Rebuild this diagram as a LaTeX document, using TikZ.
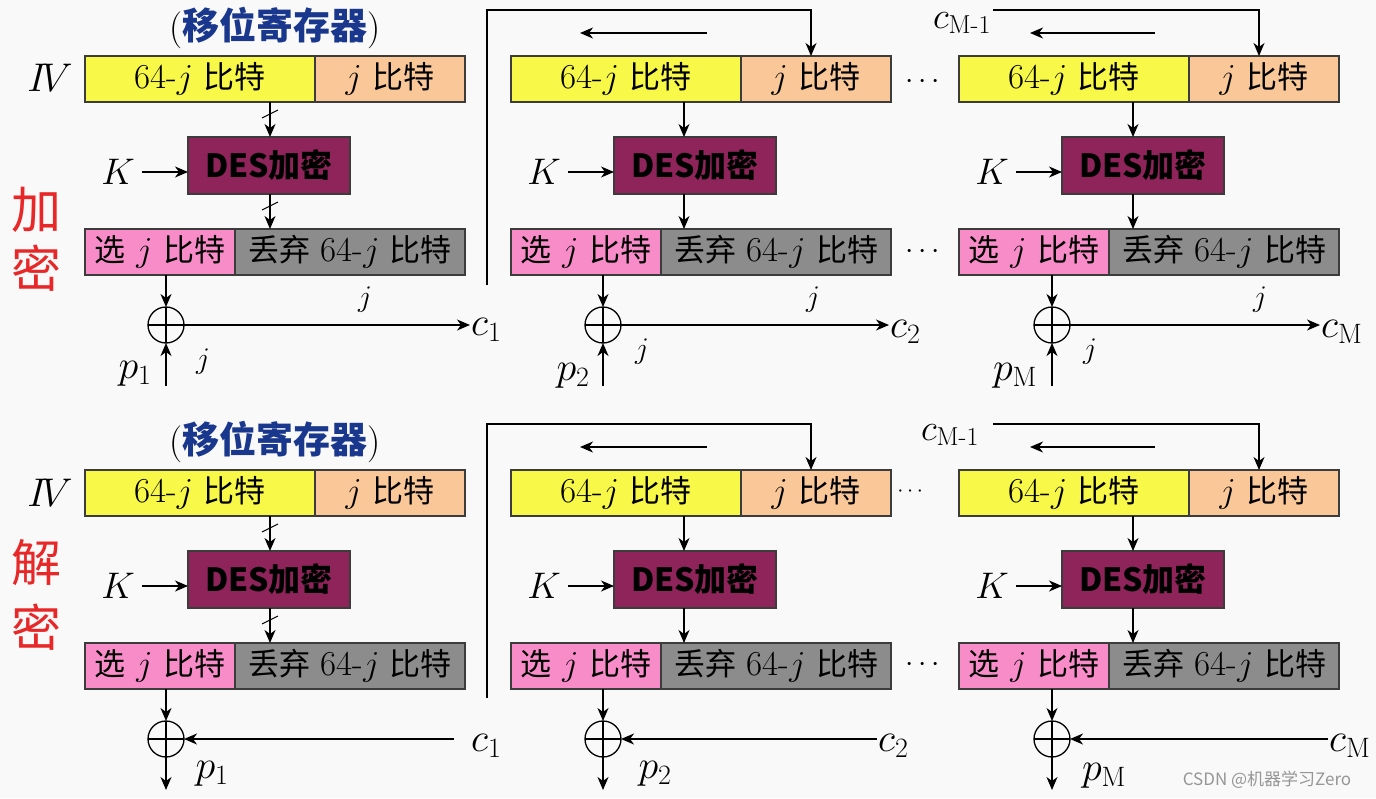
\documentclass[tikz,border=0pt]{standalone}
\usepackage{fix-cm}
\usepackage{amsmath}
\usepackage{fontspec}
\newfontfamily\cjk{Noto Sans CJK SC}
\usetikzlibrary{arrows.meta,calc}
\definecolor{bg}{RGB}{249,249,249}
\definecolor{yel}{RGB}{248,248,72}
\definecolor{org}{RGB}{250,200,152}
\definecolor{pnk}{RGB}{247,140,200}
\definecolor{gry}{RGB}{140,140,140}
\definecolor{desc}{RGB}{142,36,89}
\definecolor{bord}{RGB}{60,60,60}
\definecolor{redc}{RGB}{232,40,40}
\definecolor{ttlc}{RGB}{25,55,140}
\definecolor{wmc}{RGB}{150,150,150}
\newcommand\zh[1]{{\cjk\fontsize{31}{36}\selectfont #1}}
\tikzset{
 cell/.style={draw=bord, line width=1.5pt, inner sep=0pt, outer sep=0pt, anchor=north west, minimum height=46pt, font=\fontsize{35}{40}\selectfont},
 desbox/.style={draw=bord, line width=1.5pt, fill=desc, inner sep=0pt, outer sep=0pt, anchor=north west, minimum width=162pt, minimum height=57pt, font=\cjk\bfseries\fontsize{32}{36}\selectfont},
 xorn/.style={circle, draw=black, line width=1.3pt, minimum size=36pt, inner sep=0pt, outer sep=0pt, path picture={\draw[line width=1.3pt] (path picture bounding box.north) -- (path picture bounding box.south) (path picture bounding box.west) -- (path picture bounding box.east);}},
 lbl/.style={font=\fontsize{40}{44}\selectfont, inner sep=1pt},
 klbl/.style={font=\fontsize{37}{42}\selectfont, inner sep=1pt},
 jl/.style={font=\fontsize{30}{34}\selectfont, inner sep=1pt},
 arr/.style={line width=1.3pt, -{Stealth[length=13pt,width=11pt,inset=4pt]}},
 bigred/.style={font=\cjk\fontsize{50}{55}\selectfont, text=redc, inner sep=0pt},
 ttl/.style={font=\fontsize{37}{42}\selectfont, inner sep=0pt},
 dotsn/.style={font=\fontsize{30}{34}\selectfont, inner sep=0pt},
 wm/.style={font=\cjk\fontsize{17}{20}\selectfont, text=wmc, inner sep=0pt},
}
% #1 name, #2 left, #3 top, #4 arrow x offset, #5 xor x offset
\newcommand\mkcol[5]{%
  \node[cell, fill=yel, minimum width=230pt] (#1y) at (#2,#3) {64-$j$ \zh{比特}};
  \node[cell, fill=org, minimum width=150pt] (#1o) at (#1y.north east) {$j$ \zh{比特}};
  \node[desbox] (#1d) at ($(#2,#3)+(103,81)$) {DES加密};
  \node[cell, fill=pnk, minimum width=150pt] (#1p) at ($(#2,#3)+(0,173)$) {\zh{选} $j$ \zh{比特}};
  \node[cell, fill=gry, minimum width=230pt] (#1g) at (#1p.north east) {\zh{丢弃} 64-$j$ \zh{比特}};
  \node[xorn] (#1x) at ($(#2,#3)+(#5,269)$) {};
  \coordinate (#1a) at ($(#2,#3)+(#4,0)$);
  \draw[arr] (#1a |- #1y.south) -- (#1a |- #1d.north);
  \draw[arr] (#1a |- #1d.south) -- (#1a |- #1p.north);
  \draw[arr] (#1x |- #1p.south) -- (#1x.north);
  \node[klbl] (#1k) at ($(#2,#3)+(33,116)$) {$K$};
  \draw[arr] ([xshift=6pt]#1k.east) -- (#1k.east -| #1d.west);
}
\begin{document}
\begin{tikzpicture}[x=1pt,y=-1pt]
\path[use as bounding box, fill=bg] (0,0) rectangle (1376,798);

% ---------- top panel (encryption) ----------
\node[ttl] (ttitle) at (275,28) {(\textcolor{ttlc}{\cjk\bfseries 移位寄存器})};
\node[lbl] (tiv) at (50,78) {$I\!V$};
\node[bigred] (tjia) at (37,210) {加};
\node[bigred] (tmi) at (37,268) {密};

\mkcol{t1}{85}{56}{185}{81}
\mkcol{t2}{511}{56}{173}{92}
\mkcol{t3}{959}{56}{174}{93}

% slash marks col1
\draw[line width=1pt] ($(t1a |- t1y.south)+(-8,16)$) -- ++(16,-8);
\draw[line width=1pt] ($(t1a |- t1d.south)+(-8,16)$) -- ++(16,-8);

% col1 outputs
\node[lbl, anchor=west] (tc1) at (470,330) {$c_1$};
\draw[arr] (t1x.east) -- (t1x.east -| tc1.west);
\node[jl] (tj1a) at (365,300) {$j$};
\node[jl] (tj1b) at (203,362) {$j$};
\node[lbl] (tp1) at (135,374) {$p_1$};
\coordinate (tp1s) at (166,386);
\draw[arr] (tp1s) -- (t1x.south);

% feedback into col2
\coordinate (tf1) at (487,285);
\draw[arr] (tf1) |- ([xshift=-5pt,yshift=46pt]t2o.north) -- ([xshift=-5pt]t2o.north);
\coordinate (tl2s) at (707,33);
\coordinate (tl2e) at (580,33);
\draw[arr] (tl2s) -- (tl2e);

% col2 outputs
\node[lbl, anchor=west] (tc2) at (889,332) {$c_2$};
\draw[arr] (t2x.east) -- (t2x.east -| tc2.west);
\node[jl] (tj2a) at (813,300) {$j$};
\node[jl] (tj2b) at (642,352) {$j$};
\node[lbl] (tp2) at (573,376) {$p_2$};
\coordinate (tp2s) at (603,386);
\draw[arr] (tp2s) -- (t2x.south);

% dots
\node[dotsn] (td1) at (925,82) {$\cdots$};
\node[dotsn] (td2) at (925,252) {$\cdots$};

% col3
\node[lbl, font=\fontsize{37}{42}\selectfont] (tcm) at (962,23) {$c_{\mathrm{M}\text{-}1}$};
\coordinate (tf3) at (993,10);
\draw[arr] (tf3) -| ([xshift=-5pt]t3o.north);
\coordinate (tl3s) at (1155,33);
\coordinate (tl3e) at (1030,33);
\draw[arr] (tl3s) -- (tl3e);
\node[lbl, anchor=west] (tcM) at (1320,332) {$c_{\mathrm{M}}$};
\draw[arr] (t3x.east) -- (t3x.east -| tcM.west);
\node[jl] (tj3a) at (1260,300) {$j$};
\node[jl] (tj3b) at (1090,352) {$j$};
\node[lbl] (tpM) at (1015,376) {$p_{\mathrm{M}}$};
\coordinate (tp3s) at (1052,386);
\draw[arr] (tp3s) -- (t3x.south);

% ---------- bottom panel (decryption) ----------
\node[ttl] (btitle) at (275,442) {(\textcolor{ttlc}{\cjk\bfseries 移位寄存器})};
\node[lbl] (biv) at (50,493) {$I\!V$};
\node[bigred] (bjie) at (37,563) {解};
\node[bigred] (bmi) at (37,627) {密};

\mkcol{b1}{85}{470}{185}{81}
\mkcol{b2}{511}{470}{173}{92}
\mkcol{b3}{959}{470}{174}{93}

\draw[line width=1pt] ($(b1a |- b1y.south)+(-8,16)$) -- ++(16,-8);
\draw[line width=1pt] ($(b1a |- b1d.south)+(-8,16)$) -- ++(16,-8);

% col1
\node[lbl, anchor=west] (bc1) at (470,746) {$c_1$};
\coordinate (bs1) at ([xshift=-16pt]bc1.west);
\draw[arr] (bs1 |- b1x) -- (b1x.east);
\coordinate (be1) at (166,790);
\draw[arr] (b1x.south) -- (b1x.south |- be1);
\node[lbl] (bp1) at (212,774) {$p_1$};

\coordinate (bf1) at (487,698);
\draw[arr] (bf1) |- ([xshift=-5pt,yshift=46pt]b2o.north) -- ([xshift=-5pt]b2o.north);
\coordinate (bl2s) at (707,447);
\coordinate (bl2e) at (580,447);
\draw[arr] (bl2s) -- (bl2e);

% col2
\node[lbl, anchor=west] (bc2) at (877,746) {$c_2$};
\draw[arr] (bc2.west |- b2x) -- (b2x.east);
\coordinate (be2) at (603,790);
\draw[arr] (b2x.south) -- (b2x.south |- be2);
\node[lbl] (bp2) at (655,774) {$p_2$};

\node[dotsn, font=\fontsize{22}{26}\selectfont] (bd1) at (912,492) {$\cdots$};
\node[dotsn] (bd2) at (925,665) {$\cdots$};

% col3
\node[lbl, font=\fontsize{37}{42}\selectfont] (bcm) at (950,435) {$c_{\mathrm{M}\text{-}1}$};
\coordinate (bf3) at (993,424);
\draw[arr] (bf3) -| ([xshift=-5pt]b3o.north);
\coordinate (bl3s) at (1155,447);
\coordinate (bl3e) at (1030,447);
\draw[arr] (bl3s) -- (bl3e);
\node[lbl, anchor=west] (bcM) at (1328,746) {$c_{\mathrm{M}}$};
\draw[arr] (bcM.west |- b3x) -- (b3x.east);
\coordinate (be3) at (1052,790);
\draw[arr] (b3x.south) -- (b3x.south |- be3);
\node[lbl] (bpM) at (1104,776) {$p_{\mathrm{M}}$};

\node[wm] (wmark) at (1267,780) {CSDN @机器学习Zero};
\end{tikzpicture}
\end{document}
